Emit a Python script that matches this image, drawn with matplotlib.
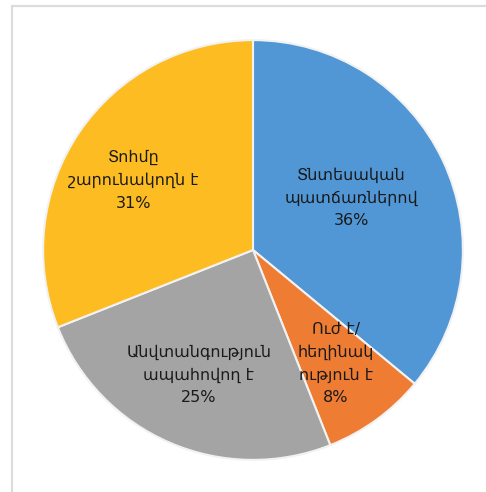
import numpy as np
import matplotlib
matplotlib.use('Agg')
import matplotlib.pyplot as plt
from matplotlib.patches import Rectangle

plt.rcParams['font.family'] = ['DejaVu Sans', 'Noto Sans']

labels = ['Տնտեսական\nպատճառներով', 'Ուժ է/\nհեղինակ\nություն է',
          'Անվտանգություն\nապահովող է', 'Տոհմը\nշարունակողն է']
values = [36, 8, 25, 31]
colors = ['#5197d6', '#ee7d33', '#a4a4a4', '#fdbd22']
label_dist = [0.53, 0.67, 0.65, 0.66]
label_shift = [3, 0, 0, 4]  # small angular nudges, degrees

fig = plt.figure(figsize=(4.86, 4.92), dpi=100)
fig.patch.set_facecolor('white')

# light frame around the chart
fig.patches.append(Rectangle((12 / 486, -0.5), 2.0, (492 - 6) / 492 + 0.5,
                             transform=fig.transFigure, fill=False,
                             edgecolor='#dcdcdc', linewidth=1.6))

ax = fig.add_axes((41 / 486, (492 - 250 - 212) / 492, 424 / 486, 424 / 492))
wedges, _ = ax.pie(values, colors=colors, startangle=90, counterclock=False,
                   radius=1,
                   wedgeprops=dict(edgecolor='#f2f2f2', linewidth=1.5))
ax.set_xlim(-1.01, 1.01)
ax.set_ylim(-1.01, 1.01)
ax.set_aspect('equal')
ax.axis('off')

for w, lab, v, d, s in zip(wedges, labels, values, label_dist, label_shift):
    ang = np.deg2rad((w.theta1 + w.theta2) / 2 + s)
    ax.text(d * np.cos(ang), d * np.sin(ang), f'{lab}\n{v}%',
            ha='center', va='center', fontsize=11.5, color='#1a1a1a',
            linespacing=1.6)

fig.savefig('out.png', dpi=100)
